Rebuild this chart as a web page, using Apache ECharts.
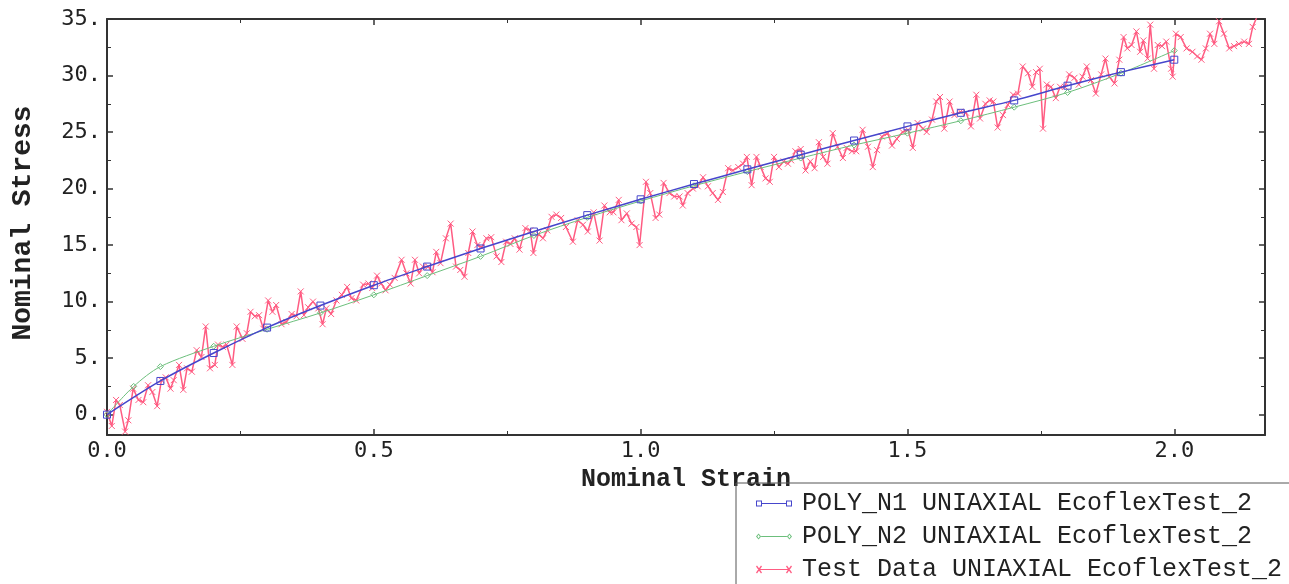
<!DOCTYPE html>
<html>
<head>
<meta charset="utf-8">
<title>Nominal Stress - Nominal Strain</title>
<script src="https://cdn.jsdelivr.net/npm/echarts@6/dist/echarts.min.js"></script>
<style>
html, body { margin: 0; padding: 0; background: #fff; }
#main { width: 1289px; height: 584px; }
</style>
</head>
<body>
<div id="main"></div>
<script>
// POLY_N1 fit, markers every 0.1 strain
var n1Data = [[0, 0], [0.1, 2.98], [0.2, 5.45], [0.3, 7.7], [0.4, 9.65], [0.5, 11.45], [0.6, 13.1],
    [0.7, 14.7], [0.8, 16.2], [0.9, 17.65], [1.0, 19.05], [1.1, 20.4], [1.2, 21.7], [1.3, 23.0],
    [1.4, 24.25], [1.5, 25.5], [1.6, 26.7], [1.7, 27.8], [1.8, 29.1], [1.9, 30.3], [2.0, 31.4]];
// POLY_N2 fit
var n2Data = [[0, 0], [0.05, 2.5], [0.1, 4.25], [0.2, 6.05], [0.3, 7.55], [0.4, 9.0], [0.5, 10.6],
    [0.6, 12.3], [0.7, 14.0], [0.8, 15.85], [0.9, 17.45], [1.0, 18.9], [1.1, 20.25], [1.2, 21.5],
    [1.3, 22.7], [1.4, 23.85], [1.5, 24.9], [1.6, 26.0], [1.7, 27.2], [1.8, 28.5], [1.9, 30.2], [2.0, 32.2]];
// test data
var testData = [[0.000,0.25],[0.009,-1.0],[0.017,1.3],[0.024,0.85],[0.034,-1.5],[0.040,-0.5],[0.049,2.3],
    [0.059,1.3],[0.068,1.1],[0.077,2.6],[0.085,2.0],[0.094,0.75],[0.102,3.05],[0.110,3.3],[0.119,2.3],
    [0.125,3.05],[0.135,4.4],[0.143,2.2],[0.150,4.1],[0.159,3.8],[0.168,5.7],[0.177,5.1],[0.185,7.8],
    [0.193,4.1],[0.202,4.4],[0.208,6.2],[0.217,6.0],[0.224,6.2],[0.235,4.4],[0.243,7.8],[0.254,6.7],
    [0.262,7.2],[0.269,9.1],[0.277,8.7],[0.285,8.8],[0.293,7.6],[0.302,10.1],[0.310,9.1],[0.317,9.7],
    [0.327,8.0],[0.336,8.2],[0.346,8.9],[0.355,8.7],[0.363,10.9],[0.369,8.8],[0.377,9.5],[0.386,10.0],
    [0.396,9.4],[0.404,8.0],[0.411,9.4],[0.420,8.9],[0.430,10.1],[0.440,10.6],[0.450,11.3],[0.458,10.3],
    [0.467,10.1],[0.480,11.5],[0.490,11.6],[0.497,11.2],[0.506,12.3],[0.514,11.6],[0.522,11.0],
    [0.530,11.5],[0.539,12.1],[0.552,13.7],[0.561,12.5],[0.569,11.6],[0.577,13.7],[0.585,12.5],[0.592,13.1],
    [0.602,13.1],[0.610,12.6],[0.617,14.4],[0.625,13.4],[0.635,15.6],[0.644,16.9],[0.654,13.1],[0.662,12.8],
    [0.670,12.2],[0.677,14.3],[0.685,16.2],[0.694,15.0],[0.702,14.8],[0.711,15.6],[0.720,15.7],[0.730,14.0],
    [0.739,13.5],[0.748,15.3],[0.756,15.1],[0.764,15.6],[0.773,14.6],[0.784,16.5],[0.793,16.3],[0.799,14.3],
    [0.808,16.0],[0.817,15.6],[0.825,16.3],[0.833,17.5],[0.842,17.7],[0.851,17.4],[0.860,16.6],[0.873,15.3],
    [0.882,17.2],[0.892,16.8],[0.901,16.2],[0.912,17.9],[0.923,15.4],[0.932,18.5],[0.942,17.9],[0.949,17.9],
    [0.959,19.0],[0.964,17.2],[0.974,17.8],[0.983,16.9],[0.992,16.6],[0.998,15.0],[1.010,20.6],[1.018,19.6],
    [1.028,17.4],[1.035,17.7],[1.043,20.5],[1.054,19.6],[1.063,19.3],[1.073,19.3],[1.079,18.5],[1.088,19.6],
    [1.098,20.0],[1.107,20.2],[1.117,21.0],[1.126,20.2],[1.135,19.6],[1.145,19.0],[1.154,19.7],[1.164,21.8],
    [1.173,21.6],[1.183,21.9],[1.192,22.2],[1.199,22.8],[1.208,20.3],[1.217,22.8],[1.225,21.9],[1.234,20.9],
    [1.242,20.6],[1.250,22.8],[1.259,21.9],[1.268,22.4],[1.276,22.2],[1.282,22.5],[1.290,23.3],[1.300,23.5],
    [1.309,21.6],[1.318,22.4],[1.326,21.8],[1.334,24.1],[1.342,22.8],[1.350,22.2],[1.360,24.9],[1.369,23.7],
    [1.379,22.7],[1.386,23.6],[1.396,23.3],[1.404,23.3],[1.416,25.2],[1.426,23.7],[1.435,21.9],[1.443,23.4],
    [1.452,24.6],[1.463,24.9],[1.471,23.8],[1.480,24.4],[1.491,25.0],[1.501,25.2],[1.510,23.6],[1.519,25.8],
    [1.529,25.3],[1.536,25.0],[1.546,26.1],[1.554,27.7],[1.561,28.1],[1.569,25.3],[1.579,27.7],[1.588,26.5],
    [1.599,26.8],[1.610,26.7],[1.619,25.5],[1.629,28.3],[1.636,26.2],[1.646,27.5],[1.654,27.8],[1.661,27.7],
    [1.669,25.4],[1.679,26.5],[1.688,27.4],[1.698,28.3],[1.707,28.4],[1.716,30.8],[1.726,30.2],[1.734,29.0],
    [1.741,30.3],[1.748,30.6],[1.754,25.3],[1.761,29.2],[1.769,29.0],[1.778,28.0],[1.786,29.0],[1.795,29.0],
    [1.803,30.1],[1.813,29.8],[1.821,29.2],[1.828,29.9],[1.836,30.8],[1.844,29.6],[1.853,28.4],[1.863,30.1],
    [1.871,31.5],[1.878,29.9],[1.888,29.3],[1.897,31.4],[1.905,33.4],[1.912,32.4],[1.920,32.7],[1.929,33.9],
    [1.936,32.1],[1.942,33.1],[1.950,31.5],[1.955,34.5],[1.962,30.6],[1.969,32.7],[1.977,32.6],[1.985,33.0],
    [1.994,30.6],[1.997,29.9],[2.003,33.7],[2.012,33.4],[2.023,32.4],[2.034,32.1],[2.043,31.7],[2.051,31.4],
    [2.059,32.4],[2.067,33.7],[2.075,32.8],[2.084,34.8],[2.093,33.7],[2.103,32.4],[2.112,32.6],[2.121,32.8],
    [2.131,33.0],[2.140,32.8],[2.147,34.3],[2.155,35.2]];

var names = ['POLY_N1 UNIAXIAL EcoflexTest_2', 'POLY_N2 UNIAXIAL EcoflexTest_2', 'Test Data UNIAXIAL EcoflexTest_2'];
var blue = '#4646cc', green = '#6cbf7c', pink = '#ff5c82';
var axisColor = '#333';

var iconN1 = 'path://M0,1H6V7H0Z M1,2V6H5V2Z M6,3.5H30V4.5H6Z M30,1H36V7H30Z M31,2V6H35V2Z';
var iconN2 = 'path://M3,1L5.5,4L3,7L0.5,4Z M3,2.3L1.8,4L3,5.7L4.2,4Z M5.5,3.6H30.5V4.4H5.5Z M33,1L35.5,4L33,7L30.5,4Z M33,2.3L31.8,4L33,5.7L34.2,4Z';
var iconTest = 'path://M0,1L1,0L6,7L5,8Z M5,0L6,1L1,8L0,7Z M3,3.5H33V4.5H3Z M30,1L31,0L36,7L35,8Z M35,0L36,1L31,8L30,7Z';

function xAxisDef(pos) {
    return {
        type: 'value', position: pos, min: 0, max: 2.17, interval: 0.5,
        axisLine: {show: true, onZero: false, lineStyle: {color: axisColor, width: 2}},
        axisTick: {show: true, inside: true, length: 6, lineStyle: {color: axisColor, width: 1.5}},
        minorTick: {show: true, splitNumber: 2, length: 4, lineStyle: {color: axisColor, width: 1}},
        splitLine: {show: false},
        axisLabel: {
            show: pos === 'bottom', showMaxLabel: false, margin: 5,
            fontFamily: 'DejaVu Sans Mono', fontSize: 22, color: '#222',
            formatter: function (v) { return v.toFixed(1); }
        }
    };
}
function yAxisDef(pos) {
    return {
        type: 'value', position: pos, min: -1.8, max: 35, splitNumber: 7, minInterval: 5, maxInterval: 5,
        axisLine: {show: true, onZero: false, lineStyle: {color: axisColor, width: 2}},
        axisTick: {show: true, inside: true, length: 6, lineStyle: {color: axisColor, width: 1.5}},
        minorTick: {show: true, splitNumber: 2, length: 4, lineStyle: {color: axisColor, width: 1}},
        splitLine: {show: false},
        axisLabel: {
            show: pos === 'left', showMinLabel: false, margin: 6,
            fontFamily: 'DejaVu Sans Mono', fontSize: 22, color: '#222',
            formatter: function (v) { return Math.abs(v % 5) < 1e-6 ? v.toFixed(0) + '.' : ''; }
        }
    };
}

var xBottom = xAxisDef('bottom');
xBottom.name = 'Nominal Strain';
xBottom.nameLocation = 'middle';
xBottom.nameGap = 28;
xBottom.nameTextStyle = {fontFamily: 'Liberation Mono', fontWeight: 'bold', fontSize: 25, color: '#222'};
var yLeft = yAxisDef('left');
yLeft.name = 'Nominal Stress';
yLeft.nameLocation = 'middle';
yLeft.nameGap = 70;
yLeft.nameTextStyle = {fontFamily: 'Liberation Mono', fontWeight: 'bold', fontSize: 28, color: '#222', padding: [0, 0, 0, 8]};

var myChart = echarts.init(document.getElementById('main'));
myChart.setOption({
    animation: false,
    backgroundColor: '#fff',
    grid: {left: 107, right: 24, top: 19, bottom: 149},
    legend: {
        orient: 'vertical', left: 736, top: 483, height: 130,
        itemWidth: 36, itemHeight: 8, itemGap: 8,
        padding: [8, 14, 14, 20],
        borderColor: '#555', borderWidth: 1,
        textStyle: {fontFamily: 'Liberation Mono', fontSize: 25, color: '#222', padding: [0, 0, 0, 5]},
        data: [
            {name: names[0], icon: iconN1, itemStyle: {color: blue, borderWidth: 0}},
            {name: names[1], icon: iconN2, itemStyle: {color: green, borderWidth: 0}},
            {name: names[2], icon: iconTest, itemStyle: {color: pink, borderWidth: 0}}
        ]
    },
    xAxis: [xBottom, xAxisDef('top')],
    yAxis: [yLeft, yAxisDef('right')],
    series: [
        {
            name: names[2], type: 'line', data: testData, z: 2,
            symbol: 'path://M0,0L10,10M10,0L0,10', symbolSize: 6,
            lineStyle: {color: pink, width: 1.5},
            itemStyle: {color: pink, borderColor: pink, borderWidth: 1}
        },
        {
            name: names[1], type: 'line', data: n2Data, z: 3, smooth: 0.3,
            symbol: 'diamond', symbolSize: 6,
            lineStyle: {color: green, width: 1},
            itemStyle: {color: 'rgba(255,255,255,0)', borderColor: green, borderWidth: 1}
        },
        {
            name: names[0], type: 'line', data: n1Data, z: 4, smooth: 0.3,
            symbol: 'rect', symbolSize: 7,
            lineStyle: {color: blue, width: 1.5},
            itemStyle: {color: 'rgba(255,255,255,0)', borderColor: blue, borderWidth: 1}
        }
    ]
});
</script>
</body>
</html>
